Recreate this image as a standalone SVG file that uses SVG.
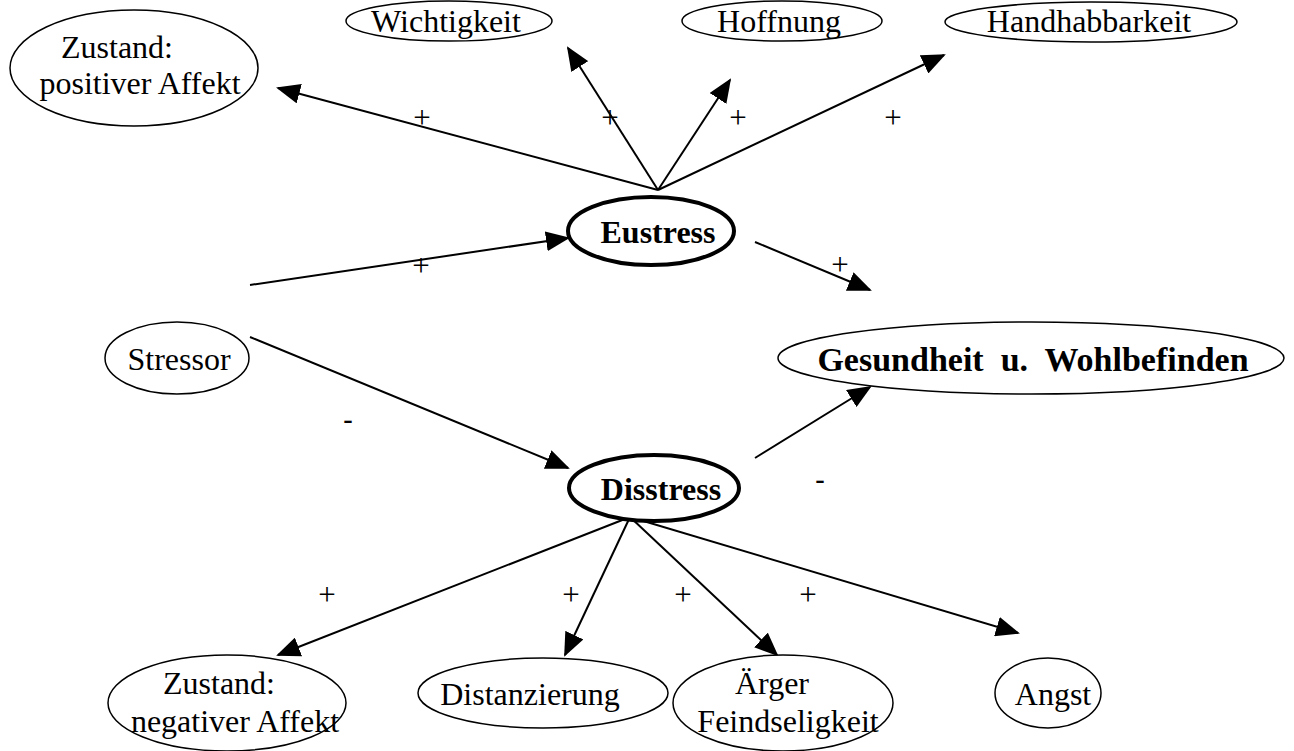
<svg xmlns="http://www.w3.org/2000/svg" width="1294" height="751" viewBox="0 0 1294 751">
<defs>
<style>
.n{fill:#fff;stroke:#000;stroke-width:1.5}
.b{fill:#fff;stroke:#000;stroke-width:4}
.t{font-family:"Liberation Serif","Times New Roman",serif;font-size:32px;fill:#000;text-anchor:middle}
.tb{font-family:"Liberation Serif","Times New Roman",serif;font-size:32px;font-weight:bold;fill:#000;text-anchor:middle;white-space:pre}
.l{font-family:"Liberation Serif","Times New Roman",serif;font-size:31px;fill:#000;text-anchor:middle}
.m{font-family:"Liberation Sans",Arial,sans-serif;font-size:30px;fill:#000;text-anchor:middle}
.c{stroke:#000;stroke-width:2;fill:none;marker-end:url(#ah)}
</style>
<marker id="ah" markerWidth="12" markerHeight="10" refX="11" refY="5" orient="auto" markerUnits="strokeWidth">
<path d="M0,0 L12,5 L0,10 Z" fill="#000"/>
</marker>
</defs>
<rect width="1294" height="751" fill="#fff"/>
<g id="connectors">
<line class="c" x1="658" y1="190" x2="278" y2="88"/>
<line class="c" x1="658" y1="190" x2="568" y2="48"/>
<line class="c" x1="658" y1="190" x2="730" y2="80"/>
<line class="c" x1="658" y1="190" x2="944" y2="55"/>
<line class="c" x1="250" y1="285" x2="568" y2="238"/>
<line class="c" x1="755" y1="242" x2="870" y2="290"/>
<line class="c" x1="250" y1="337" x2="568" y2="468"/>
<line class="c" x1="755" y1="458" x2="870" y2="387"/>
<line class="c" x1="630" y1="517" x2="278" y2="655"/>
<line class="c" x1="630" y1="517" x2="565" y2="655"/>
<line class="c" x1="630" y1="517" x2="777" y2="655"/>
<line class="c" x1="630" y1="517" x2="1018" y2="633"/>
<text class="l" x="422" y="128">+</text>
<text class="l" x="610" y="128">+</text>
<text class="l" x="738" y="128">+</text>
<text class="l" x="893" y="128">+</text>
<text class="l" x="421" y="276">+</text>
<text class="l" x="840" y="275">+</text>
<text class="m" x="348" y="430">-</text>
<text class="m" x="820" y="490">-</text>
<text class="l" x="327" y="605">+</text>
<text class="l" x="571" y="605">+</text>
<text class="l" x="683" y="605">+</text>
<text class="l" x="808" y="605">+</text>
</g>
<g id="zustand-positiv">
<ellipse class="n" cx="134" cy="68" rx="124" ry="58"/>
<text class="t" x="117" y="58">Zustand:</text>
<text class="t" x="140" y="94">positiver Affekt</text>
</g>
<g id="wichtigkeit">
<ellipse class="n" cx="449" cy="21" rx="103" ry="20"/>
<text class="t" x="446" y="32">Wichtigkeit</text>
</g>
<g id="hoffnung">
<ellipse class="n" cx="782" cy="21" rx="100" ry="20"/>
<text class="t" x="779" y="32">Hoffnung</text>
</g>
<g id="handhabbarkeit">
<ellipse class="n" cx="1091" cy="22" rx="146" ry="20"/>
<text class="t" x="1089" y="32">Handhabbarkeit</text>
</g>
<g id="eustress">
<ellipse class="b" cx="651" cy="231" rx="83" ry="34"/>
<text class="tb" x="658" y="243">Eustress</text>
</g>
<g id="stressor">
<ellipse class="n" cx="177" cy="358" rx="72" ry="36"/>
<text class="t" x="179" y="370">Stressor</text>
</g>
<g id="gesundheit">
<ellipse class="n" cx="1031" cy="358" rx="253" ry="36"/>
<text class="tb" x="1033" y="371" style="font-size:34px">Gesundheit  u.  Wohlbefinden</text>
</g>
<g id="disstress">
<ellipse class="b" cx="654" cy="488" rx="85" ry="33"/>
<text class="tb" x="661" y="500">Disstress</text>
</g>
<g id="zustand-negativ">
<ellipse class="n" cx="227" cy="703" rx="119" ry="48"/>
<text class="t" x="219" y="694">Zustand:</text>
<text class="t" x="235" y="732">negativer Affekt</text>
</g>
<g id="distanzierung">
<ellipse class="n" cx="543" cy="693" rx="125" ry="35"/>
<text class="t" x="530" y="705">Distanzierung</text>
</g>
<g id="aerger">
<ellipse class="n" cx="783" cy="703" rx="110" ry="48"/>
<text class="t" x="772" y="694">Ärger</text>
<text class="t" x="788" y="732">Feindseligkeit</text>
</g>
<g id="angst">
<ellipse class="n" cx="1048" cy="693" rx="53" ry="35"/>
<text class="t" x="1053" y="705">Angst</text>
</g>
</svg>
